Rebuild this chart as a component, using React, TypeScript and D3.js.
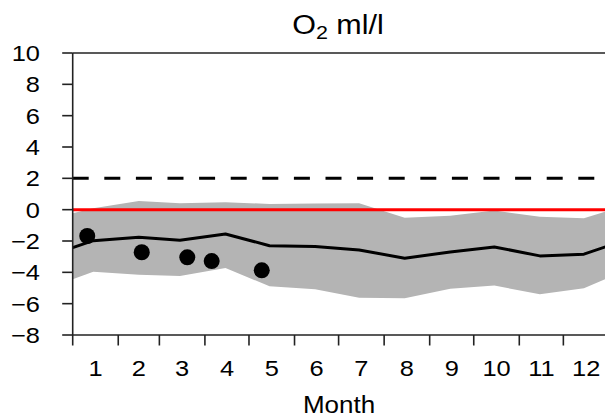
import React from "react";
import * as d3 from "d3";

// Seasonal oxygen climatology (day of year) with observed values
const bandDays = [1, 15, 46, 74, 105, 135, 166, 196, 227, 258, 288, 319, 349, 366];
const meanValues = [-2.42, -1.98, -1.76, -1.95, -1.55, -2.3, -2.35, -2.57, -3.1, -2.7, -2.38, -2.95, -2.84, -2.3];
const upperValues = [-0.23, 0.09, 0.55, 0.41, 0.48, 0.36, 0.4, 0.41, -0.51, -0.39, -0.05, -0.46, -0.55, -0.05];
const lowerValues = [-4.44, -3.96, -4.15, -4.23, -3.72, -4.89, -5.08, -5.63, -5.65, -5.04, -4.84, -5.4, -5.02, -4.33];

const obsDays = [10.9, 48, 79, 95.6, 129.7];
const obsValues = [-1.68, -2.72, -3.04, -3.28, -3.87];

const monthStarts = [1, 32, 60, 91, 121, 152, 182, 213, 244, 274, 305, 335, 366];
const monthLabels = ["1", "2", "3", "4", "5", "6", "7", "8", "9", "10", "11", "12"];
const yTicks = [10, 8, 6, 4, 2, 0, -2, -4, -6, -8];

const referenceLine = 0;
const thresholdLine = 2;

const W = 605;
const H = 416;
const font = "'Liberation Sans', Arial, sans-serif";
const stretch = 1.13;

type LabelProps = {
  x: number;
  y: number;
  size: number;
  anchor?: "start" | "middle" | "end";
  children: React.ReactNode;
};

function Label({ x, y, size, anchor = "middle", children }: LabelProps) {
  return (
    <text
      transform={`translate(${x},${y}) scale(${stretch},1)`}
      textAnchor={anchor}
      fontSize={size}
      fill="#000"
    >
      {children}
    </text>
  );
}

export default function App() {
  const x = d3.scaleLinear().domain([1, 366]).range([72.7, 608.9]);
  const y = d3.scaleLinear().domain([-8, 10]).range([335, 53]);

  const band = bandDays.map((d, i) => ({ d, lo: lowerValues[i], hi: upperValues[i], m: meanValues[i] }));
  const area = d3
    .area<{ d: number; lo: number; hi: number }>()
    .x((p) => x(p.d))
    .y0((p) => y(p.lo))
    .y1((p) => y(p.hi));
  const line = d3
    .line<{ d: number; m: number }>()
    .x((p) => x(p.d))
    .y((p) => y(p.m));

  const x0 = x(1);
  const xEnd = x(366);
  const yTop = y(10);
  const yBot = y(-8);
  const axisColor = "#222";

  return (
    <svg
      width={W}
      height={H}
      style={{ position: "absolute", left: 0, top: 0, display: "block" }}
      fontFamily={font}
    >
      <defs>
        <clipPath id="plotArea">
          <rect x={x0} y={yTop} width={xEnd - x0} height={yBot - yTop} />
        </clipPath>
      </defs>
      <rect width={W} height={H} fill="#fff" />

      <g clipPath="url(#plotArea)">
        <path d={area(band) || ""} fill="#b4b4b4" />
        <line x1={x0} x2={xEnd} y1={y(referenceLine)} y2={y(referenceLine)} stroke="#ff0000" strokeWidth={3} />
        <line
          x1={x0}
          x2={xEnd}
          y1={y(thresholdLine)}
          y2={y(thresholdLine)}
          stroke="#000"
          strokeWidth={3}
          strokeDasharray="16 15.6"
        />
        <path d={line(band) || ""} fill="none" stroke="#000" strokeWidth={3} strokeLinejoin="round" />
        {obsDays.map((d, i) => (
          <circle key={i} cx={x(d)} cy={y(obsValues[i])} r={8} fill="#000" />
        ))}
      </g>

      {/* frame */}
      <line x1={x0} x2={xEnd} y1={yTop} y2={yTop} stroke={axisColor} strokeWidth={1.6} />
      <line x1={x0} x2={x0} y1={yTop} y2={yBot} stroke={axisColor} strokeWidth={1.6} />
      <line x1={x0} x2={xEnd} y1={yBot} y2={yBot} stroke={axisColor} strokeWidth={1.6} />

      {/* y axis */}
      {yTicks.map((t) => (
        <g key={t}>
          <line x1={x0 - 10.5} x2={x0} y1={y(t)} y2={y(t)} stroke={axisColor} strokeWidth={1.6} />
          <Label x={40} y={y(t) + 8} size={22.5} anchor="end">
            {t < 0 ? "\u2212" + Math.abs(t) : String(t)}
          </Label>
        </g>
      ))}

      {/* x axis */}
      {monthStarts.slice(0, 12).map((d) => (
        <line key={d} x1={x(d)} x2={x(d)} y1={yBot} y2={yBot + 10.5} stroke={axisColor} strokeWidth={1.6} />
      ))}
      {monthLabels.map((lab, i) => (
        <Label key={lab} x={x((monthStarts[i] + monthStarts[i + 1]) / 2)} y={375.5} size={22.5}>
          {lab}
        </Label>
      ))}
      <Label x={339} y={412.5} size={23}>
        Month
      </Label>

      {/* title */}
      <Label x={338} y={33.5} size={27}>
        O
        <tspan fontSize={19} dy={5}>
          2
        </tspan>
        <tspan dy={-5}>{" ml/l"}</tspan>
      </Label>
    </svg>
  );
}
